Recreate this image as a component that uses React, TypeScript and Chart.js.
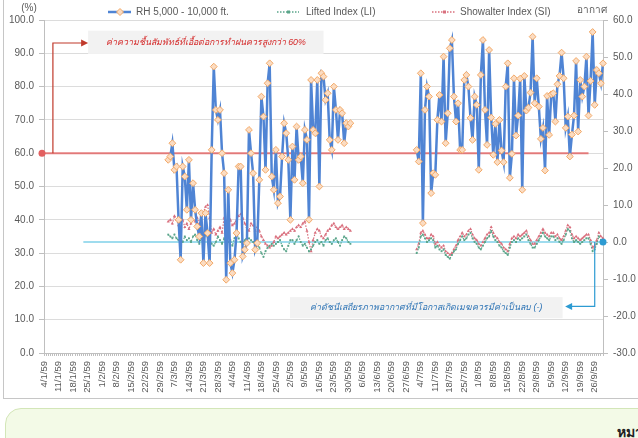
import React, { useEffect, useRef } from 'react';
import { Chart, registerables } from 'chart.js';
Chart.register(...registerables);

// ---------- categories (daily, 4/1/59 .. 30/9/59) ----------
const YEAR_SUFFIX = '59';
const MONTH_LENGTHS = [31, 29, 31, 30, 31, 30, 31, 31, 30];
const FIRST_DAY = 4;
const TICK_EVERY = 7;

function buildDates(): string[] {
  const out: string[] = [];
  for (let m = 1; m <= MONTH_LENGTHS.length; m++) {
    const start = m === 1 ? FIRST_DAY : 1;
    for (let d = start; d <= MONTH_LENGTHS[m - 1]; d++) out.push(`${d}/${m}/${YEAR_SUFFIX}`);
  }
  return out;
}
const DATES = buildDates();

// ---------- series values ----------
const SEG1_START = '4/3/59';
const SEG2_START = '2/7/59';

const RH_SEG1 = [
  58, 59, 63, 55, 56, 40, 28, 56, 53, 43,
  58, 40, 51, 43, 38, 35, 42, 27, 42, 36,
  27, 61, 86, 73, 70, 73, 60, 54, 22, 49,
  27, 24, 28, 36, 56, 56, 29, 31, 33, 67,
  60, 54, 31, 33, 52, 77, 71, 55, 81, 87,
  53, 49, 61, 45, 47, 59, 69, 66, 58, 40,
  62, 52, 68, 58, 59, 51, 67, 64, 40, 82,
  67, 66, 82, 50, 84, 83, 76, 78, 64, 61,
  80, 73, 64, 73, 72, 63, 69, 68, 69,
];
const RH_SEG2 = [
  61, 57.5, 84, 39, 73, 80, 77, 48, 54, 53.5,
  70, 77.5, 69.5, 89, 63, 72, 91.5, 94, 77, 69.5,
  75, 61, 61, 82, 83.5, 80, 70.6, 64, 77, 74.5,
  55, 83.5, 94, 73, 62.5, 91, 70.7, 59.5, 68.8, 57.3,
  70, 60.8, 57.3, 80, 87, 52.6, 59.8, 82.5, 65.3, 71.3,
  82.4, 49, 83.2, 72.8, 73.7, 78.2, 95, 75, 82.5, 74,
  64.3, 67.6, 54.8, 77.2, 65.5, 77.7, 78, 69.5, 80.7, 83.2,
  90.2, 82.5, 67.6, 71, 59, 65.6, 71.3, 87.7, 66.5, 82,
  77, 80, 89, 71.3, 81.7, 96.4, 74.5, 85, 84, 81, 87,
];

const LI_SEG1 = [
  2, 1.5, 1, 2, 1, 0.5, 1, 0, 1.5, 0.5,
  1, 0, 1.5, 2, 0.5, -0.5, 1, 0.5, 2, 1.5,
  0.5, -0.5, -1, 0, 1.5, 0.5, -0.5, 1, -1, 0,
  0.5, -1, 1, 2.5, 1, 0, -0.5, 0.5, 1.5, 1,
  0.5, 0, -1, -0.5, -1.5, -3, -4, -2.5, -1.5, -1,
  -0.5, -1, -0.5, 0, 0.5, -1, -2, -2.5, -1, 0.5,
  0.5, -0.5, 0.5, 1.5, 0, -1, -0.5, -1.5, -2.5, -2,
  -1, 0, 0.5, -0.5, 0, -1, 0.5, 1, 0, -0.5,
  0.5, 1, 0, -1, 0.5, 1.5, 1, 0, -0.5,
];
const LI_SEG2 = [
  -3, -1.5, 1.5, 2, 1, 0, 0.5, 1, 0.5, -1.5,
  -1, -2, -2.5, -2, -3.5, -4, -4.5, -3.5, -2.5, -2,
  -0.5, 0.5, 1.5, 0.5, 1, 2, 2.5, 1, 0, -0.5,
  -1.5, -2, -1, 0, 1, 1.5, 3, 1.5, 0.5, 0,
  -1, -1.5, -2.5, -3, -3.5, -1.5, 0, 0.5, 0, 1,
  0.5, 1, 1.5, 2, 0.5, -0.5, -1.5, -1.5, -0.5, 0.5,
  1.5, 2.5, 1.5, 1, 0.5, 1.5, 1.5, 0.5, 1, 0,
  -0.5, 0.5, 2, 3.5, 3, 1, 0, 0.5, 0, -0.5,
  0, 0.5, 1, 1, -0.5, -2.5, -2, -0.5, 1.5, 0.5, 0,
];

const SI_SEG1 = [
  5.5, 6, 5, 7, 6, 4.5, 5.5, 6, 4, 5,
  3.5, 5, 6, 5.5, 6.5, 5, 7, 8, 9.5, 10,
  6.5, 2.5, 3.5, 2, 3, 4, 2.5, 6.5, 4, 5,
  6, 4.5, 5, 6, 7, 7.5, 6.5, 5, 4, 3,
  5, 4.5, 3, 4, 3, 1.5, 0.5, -0.5, -1, -1.5,
  -1, 0, 1.5, 1, 1.5, 2, 2.5, 2, 2.5, 3,
  3.5, 3, 4, 4.5, 4, 5, 5.5, 3, 0, -2.5,
  0.5, 2.5, 3.5, 3, 1.5, 1, 2, 3, 3.5, 4.5,
  5, 4, 3.5, 4, 4.5, 3.5, 4, 3.5, 3,
];
const SI_SEG2 = [
  -2, -0.5, 2.5, 3, 2, 1, 1, 2, 1.5, -0.5,
  0, -1, -1.5, -1, -2.5, -3, -3.5, -3, -2, -1,
  0.5, 1.5, 2.5, 1.5, 2, 3, 3.5, 2, 1, 0.5,
  -0.5, -1, 0, 1, 2, 2.5, 4, 2.5, 1.5, 1,
  0, -0.5, -1.5, -2, -2.5, -0.5, 1, 1.5, 1, 2,
  1.5, 2, 2.5, 3, 1.5, 0.5, -0.5, -0.5, 0.5, 1.5,
  2.5, 3.5, 2.5, 2, 1.5, 2.5, 2.5, 1.5, 2, 1,
  0.5, 1.5, 3, 4.5, 4, 2, 1, 1.5, 1, 0.5,
  1, 1.5, 2, 2, 0.5, -1.5, -1, 0.5, 2.5, 1.5, 1,
];

// ---------- axis ranges ----------
const LEFT_MIN = 0, LEFT_MAX = 100, LEFT_STEP = 10;
const RIGHT_MIN = -30, RIGHT_MAX = 60, RIGHT_STEP = 10;

// ---------- labels / annotations ----------
const LEGEND_RH = 'RH 5,000 - 10,000 ft.';
const LEGEND_LI = 'Lifted Index (LI)';
const LEGEND_SI = 'Showalter Index (SI)';
const LEFT_TITLE = '(%)';
const RIGHT_TITLE = 'อากาศ';
const NOTE_RH_TEXT = 'ค่าความชื้นสัมพัทธ์ที่เอื้อต่อการทำฝนควรสูงกว่า 60%';
const NOTE_LI_TEXT = 'ค่าดัชนีเสถียรภาพอากาศที่มีโอกาสเกิดเมฆควรมีค่าเป็นลบ (-)';
const FOOT_TEXT = 'หมายเหตุ';

const RH_THRESHOLD = 60;
const LI_THRESHOLD = 0;
// annotation geometry in data units (category index, axis value)
const RH_LINE_X = [0, 263];
const LI_LINE_X = [19, 270];
const NOTE_RH = { elbowX: 4.3, arrowX: 21.3, arrowY: 93.1, boxX: [21.3, 135], boxY: [96.8, 89.8] };
const NOTE_LI = { elbowX: 266, arrowX: 251.7, arrowY: -17.4, boxX: [118.8, 250.5], boxY: [-14.9, -20.6] };

const COLORS = {
  rh: '#4f84d4',
  rhMarkerFill: '#fbdcc2',
  rhMarkerBorder: '#f2a866',
  li: '#5aa58a',
  si: '#d9707e',
  red: '#e26060',
  redDark: '#c0392b',
  cyan: '#7fd0e8',
  blue: '#2d9bd2',
  grid: '#dcdcdc',
  axis: '#bfbfbf',
  text: '#595959',
};
const FONT = '"Liberation Sans", "Noto Sans", sans-serif';

function series(seg1: number[], seg2: number[]): (number | null)[] {
  const arr: (number | null)[] = DATES.map(() => null);
  const a = DATES.indexOf(SEG1_START);
  seg1.forEach((v, k) => { arr[a + k] = v; });
  const b = DATES.indexOf(SEG2_START);
  seg2.forEach((v, k) => { arr[b + k] = v; });
  return arr;
}

function arrowHead(ctx: CanvasRenderingContext2D, x: number, y: number, dir: number, color: string) {
  ctx.save();
  ctx.fillStyle = color;
  ctx.beginPath();
  ctx.moveTo(x, y);
  ctx.lineTo(x - dir * 7, y - 3.5);
  ctx.lineTo(x - dir * 7, y + 3.5);
  ctx.closePath();
  ctx.fill();
  ctx.restore();
}

const annotPlugin = {
  id: 'annot',
  beforeDatasetsDraw(chart: any) {
    const { ctx, scales } = chart;
    const x = scales.x, yl = scales.yL, yr = scales.yR;
    ctx.save();
    const y60 = yl.getPixelForValue(RH_THRESHOLD);
    ctx.strokeStyle = COLORS.red;
    ctx.globalAlpha = 0.8;
    ctx.lineWidth = 2;
    ctx.beginPath();
    ctx.moveTo(x.getPixelForValue(RH_LINE_X[0]), y60);
    ctx.lineTo(x.getPixelForValue(RH_LINE_X[1]), y60);
    ctx.stroke();
    const y0 = yr.getPixelForValue(LI_THRESHOLD);
    ctx.globalAlpha = 1;
    ctx.strokeStyle = COLORS.cyan;
    ctx.lineWidth = 1.5;
    ctx.beginPath();
    ctx.moveTo(x.getPixelForValue(LI_LINE_X[0]), y0);
    ctx.lineTo(x.getPixelForValue(LI_LINE_X[1]), y0);
    ctx.stroke();
    ctx.restore();
  },
  afterDraw(chart: any) {
    const { ctx, scales } = chart;
    const x = scales.x, yl = scales.yL, yr = scales.yR;
    ctx.save();
    ctx.globalAlpha = 1;

    // ---- red note ----
    const y60 = yl.getPixelForValue(RH_THRESHOLD);
    const bx0 = x.getPixelForValue(NOTE_RH.boxX[0]);
    const bx1 = x.getPixelForValue(NOTE_RH.boxX[1]);
    const by0 = yl.getPixelForValue(NOTE_RH.boxY[0]);
    const by1 = yl.getPixelForValue(NOTE_RH.boxY[1]);
    ctx.fillStyle = '#f2f2f2';
    ctx.fillRect(bx0, by0, bx1 - bx0, by1 - by0);
    const ex = x.getPixelForValue(NOTE_RH.elbowX);
    const ay = yl.getPixelForValue(NOTE_RH.arrowY);
    const ax = x.getPixelForValue(NOTE_RH.arrowX);
    ctx.strokeStyle = COLORS.redDark;
    ctx.lineWidth = 1.2;
    ctx.beginPath();
    ctx.moveTo(ex, y60);
    ctx.lineTo(ex, ay);
    ctx.lineTo(ax - 6, ay);
    ctx.stroke();
    arrowHead(ctx, ax, ay, 1, COLORS.redDark);
    ctx.fillStyle = COLORS.red;
    ctx.beginPath();
    ctx.arc(x.getPixelForValue(0) - 2, y60, 3.5, 0, Math.PI * 2);
    ctx.fill();
    ctx.fillStyle = '#d42a2a';
    ctx.font = 'italic 8.8px ' + FONT;
    ctx.textAlign = 'center';
    ctx.textBaseline = 'middle';
    ctx.fillText(NOTE_RH_TEXT, (bx0 + bx1) / 2, ay);

    // ---- blue note ----
    const y0 = yr.getPixelForValue(LI_THRESHOLD);
    const cx0 = x.getPixelForValue(NOTE_LI.boxX[0]);
    const cx1 = x.getPixelForValue(NOTE_LI.boxX[1]);
    const cy0 = yr.getPixelForValue(NOTE_LI.boxY[0]);
    const cy1 = yr.getPixelForValue(NOTE_LI.boxY[1]);
    ctx.fillStyle = '#f2f2f2';
    ctx.fillRect(cx0, cy0, cx1 - cx0, cy1 - cy0);
    const fx = x.getPixelForValue(NOTE_LI.elbowX);
    const gy = yr.getPixelForValue(NOTE_LI.arrowY);
    const gx = x.getPixelForValue(NOTE_LI.arrowX);
    ctx.strokeStyle = COLORS.blue;
    ctx.lineWidth = 1.2;
    ctx.beginPath();
    ctx.moveTo(fx, y0);
    ctx.lineTo(fx, gy);
    ctx.lineTo(gx + 6, gy);
    ctx.stroke();
    arrowHead(ctx, gx, gy, -1, COLORS.blue);
    ctx.fillStyle = COLORS.blue;
    ctx.beginPath();
    ctx.arc(x.getPixelForValue(DATES.length - 1), y0, 3.5, 0, Math.PI * 2);
    ctx.fill();
    ctx.fillStyle = '#2e74b5';
    ctx.font = 'italic 8.8px ' + FONT;
    ctx.fillText(NOTE_LI_TEXT, (cx0 + cx1) / 2, (cy0 + cy1) / 2);

    // ---- titles ----
    ctx.fillStyle = COLORS.text;
    ctx.font = '10px ' + FONT;
    ctx.fillText(LEFT_TITLE, 29, 8);
    ctx.fillText(RIGHT_TITLE, 592, 10);

    // ---- legend ----
    const ly = 12;
    ctx.textAlign = 'left';
    ctx.strokeStyle = COLORS.rh;
    ctx.lineWidth = 2.5;
    ctx.setLineDash([]);
    ctx.beginPath(); ctx.moveTo(108, ly); ctx.lineTo(131, ly); ctx.stroke();
    ctx.fillStyle = COLORS.rhMarkerFill; ctx.strokeStyle = COLORS.rhMarkerBorder; ctx.lineWidth = 1;
    ctx.beginPath(); ctx.moveTo(120, ly - 3.5); ctx.lineTo(123.5, ly); ctx.lineTo(120, ly + 3.5); ctx.lineTo(116.5, ly); ctx.closePath();
    ctx.fill(); ctx.stroke();
    ctx.fillStyle = COLORS.text;
    ctx.fillText(LEGEND_RH, 136, ly + 0.5);
    ctx.strokeStyle = COLORS.li; ctx.lineWidth = 1.3; ctx.setLineDash([1.5, 1.5]);
    ctx.beginPath(); ctx.moveTo(277, ly); ctx.lineTo(299, ly); ctx.stroke();
    ctx.setLineDash([]);
    ctx.fillStyle = COLORS.li; ctx.fillRect(287, ly - 1.5, 3, 3);
    ctx.fillStyle = COLORS.text;
    ctx.fillText(LEGEND_LI, 306, ly + 0.5);
    ctx.strokeStyle = COLORS.si; ctx.lineWidth = 1.3; ctx.setLineDash([1.5, 1.5]);
    ctx.beginPath(); ctx.moveTo(432, ly); ctx.lineTo(456, ly); ctx.stroke();
    ctx.setLineDash([]);
    ctx.fillStyle = COLORS.si; ctx.fillRect(443, ly - 1.5, 3, 3);
    ctx.fillStyle = COLORS.text;
    ctx.fillText(LEGEND_SI, 460, ly + 0.5);
    ctx.restore();
  },
};

export default function App() {
  const ref = useRef<HTMLCanvasElement | null>(null);
  useEffect(() => {
    if (!ref.current) return;
    const chart = new Chart(ref.current, {
      type: 'line',
      data: {
        labels: DATES,
        datasets: [
          {
            label: LEGEND_RH,
            data: series(RH_SEG1, RH_SEG2),
            yAxisID: 'yL',
            borderColor: COLORS.rh,
            borderWidth: 2.5,
            pointStyle: 'rectRot',
            pointRadius: 3.4,
            pointBackgroundColor: COLORS.rhMarkerFill,
            pointBorderColor: COLORS.rhMarkerBorder,
            pointBorderWidth: 1,
            spanGaps: false,
            tension: 0,
          },
          {
            label: LEGEND_LI,
            data: series(LI_SEG1, LI_SEG2),
            yAxisID: 'yR',
            borderColor: COLORS.li,
            borderWidth: 1.2,
            borderDash: [1.5, 1.5],
            pointStyle: 'rect',
            pointRadius: 1.3,
            pointBackgroundColor: COLORS.li,
            pointBorderColor: COLORS.li,
            pointBorderWidth: 0,
            spanGaps: false,
          },
          {
            label: LEGEND_SI,
            data: series(SI_SEG1, SI_SEG2),
            yAxisID: 'yR',
            borderColor: COLORS.si,
            borderWidth: 1.2,
            borderDash: [1.5, 1.5],
            pointStyle: 'triangle',
            pointRadius: 1.8,
            pointBackgroundColor: COLORS.si,
            pointBorderColor: COLORS.si,
            pointBorderWidth: 0,
            spanGaps: false,
          },
        ],
      },
      options: {
        responsive: false,
        animation: false,
        devicePixelRatio: 1,
        layout: { padding: { top: 20, left: 0, right: 0, bottom: 0 } },
        plugins: { legend: { display: false }, tooltip: { enabled: false } },
        scales: {
          x: {
            type: 'category',
            offset: false,
            grid: { display: true, drawOnChartArea: false, drawTicks: true, tickLength: 3, color: COLORS.axis },
            border: { display: true, color: COLORS.axis },
            ticks: {
              autoSkip: false,
              minRotation: 90,
              maxRotation: 90,
              padding: 5,
              color: COLORS.text,
              font: { size: 9.5, family: FONT },
              callback: (_v: any, i: number) => (i % TICK_EVERY === 0 ? DATES[i] : ''),
            },
            afterFit: (s: any) => { s.height = 47; },
          },
          yL: {
            position: 'left',
            min: LEFT_MIN,
            max: LEFT_MAX,
            grid: { color: COLORS.grid, tickColor: COLORS.axis, tickLength: 5 },
            border: { display: true, color: COLORS.axis },
            ticks: {
              stepSize: LEFT_STEP,
              padding: 5,
              color: COLORS.text,
              font: { size: 10, family: FONT },
              callback: (v: any) => Number(v).toFixed(1),
            },
            afterFit: (s: any) => { s.width = 44; },
          },
          yR: {
            position: 'right',
            min: RIGHT_MIN,
            max: RIGHT_MAX,
            grid: { drawOnChartArea: false, color: COLORS.axis, tickLength: 5 },
            border: { display: true, color: COLORS.axis },
            ticks: {
              stepSize: RIGHT_STEP,
              padding: 5,
              color: COLORS.text,
              font: { size: 10, family: FONT },
              callback: (v: any) => Number(v).toFixed(1),
            },
            afterFit: (s: any) => { s.width = 35; },
          },
        },
      },
      plugins: [annotPlugin],
    } as any);
    return () => chart.destroy();
  }, []);

  return (
    <div style={{ position: 'fixed', left: 0, top: 0, width: 638, height: 438, overflow: 'hidden', background: '#fff' }}>
      <div style={{ position: 'absolute', left: 3, top: -4, width: 700, height: 403, border: '1px solid #c6c6c6', boxSizing: 'border-box' }} />
      <canvas ref={ref} width={638} height={400} style={{ position: 'absolute', left: 0, top: 0, width: 638, height: 400 }} />
      <div style={{ position: 'absolute', left: 5, top: 408, width: 700, height: 70, borderRadius: 16, background: '#f3fae7', border: '1px solid #d3e6b8', boxSizing: 'border-box' }} />
      <div style={{ position: 'absolute', left: 617, top: 421, fontFamily: 'serif', fontWeight: 'bold', fontSize: 14, color: '#222', textDecoration: 'underline', whiteSpace: 'nowrap' }}>{FOOT_TEXT}</div>
    </div>
  );
}
